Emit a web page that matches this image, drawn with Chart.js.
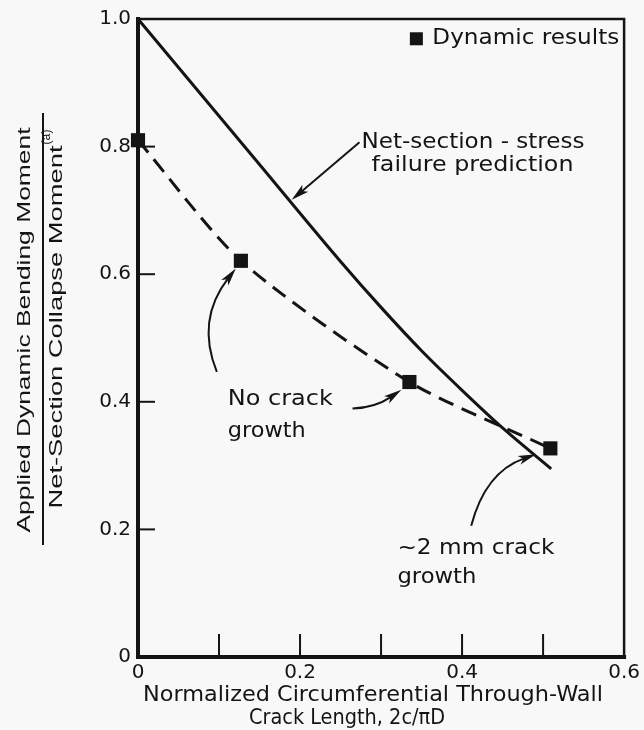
<!DOCTYPE html>
<html>
<head>
<meta charset="utf-8">
<script src="https://cdn.jsdelivr.net/npm/chart.js@4.4.1/dist/chart.umd.min.js"></script>
<style>
  html, body { margin: 0; padding: 0; background: #f8f8f8; }
  #wrap { width: 644px; height: 730px; }
</style>
</head>
<body>
<div id="wrap"><canvas id="crackChart" width="644" height="730"></canvas></div>
<script>
// dynamic test results: normalized crack length 2c/piD vs moment ratio
const dynamicX = [0, 0.127, 0.335, 0.509];
const dynamicY = [0.81, 0.621, 0.431, 0.327];

// net-section-stress failure prediction
const predictionX = [0, 0.15, 0.25, 0.30, 0.35, 0.40, 0.45, 0.51];
const predictionY = [1.0, 0.772, 0.620, 0.548, 0.480, 0.418, 0.359, 0.295];

const xTickLabels = ['0', '', '0.2', '', '0.4', '', '0.6'];
const yTickLabels = ['0', '0.2', '0.4', '0.6', '0.8', '1.0'];

const xTitle = ['Normalized Circumferential Through-Wall', 'Crack Length, 2c/\u03C0D'];
const yTitleTop = 'Applied Dynamic Bending Moment';
const yTitleBottom = 'Net-Section Collapse Moment';

// text notes, anchored in data units (left edge, middle), w = printed width in px
const notes = [
    { text: 'Net-section - stress', x: 0.2759, y: 0.807, w: 223 },
    { text: 'failure prediction', x: 0.2882, y: 0.771, w: 202 },
    { text: 'No crack', x: 0.1108, y: 0.4034, w: 105 },
    { text: 'growth', x: 0.1108, y: 0.3536, w: 78 },
    { text: '~2 mm crack', x: 0.3202, y: 0.1698, w: 157 },
    { text: 'growth', x: 0.3202, y: 0.1246, w: 79 }
];

// leader arrows: start, control, tip (data units)
const arrows = [
    [[0.2734, 0.8069], [0.2315, 0.7617], [0.1897, 0.7165]],
    [[0.0973, 0.4470], [0.0714, 0.5280], [0.1207, 0.6090]],
    [[0.2648, 0.3894], [0.2931, 0.3910], [0.3251, 0.4190]],
    [[0.4113, 0.2056], [0.4286, 0.2897], [0.4914, 0.3178]]
];

const ink = '#141414';
const plainFont = '"DejaVu Sans", sans-serif';
const titleFont = '"Liberation Sans", Arial, sans-serif';

// draw text centred at cx,cy squeezed/stretched to a given width
function fitText(ctx, text, cx, cy, width, size, family, angle) {
    ctx.save();
    ctx.font = size + 'px ' + family;
    ctx.translate(cx, cy);
    if (angle) ctx.rotate(angle);
    const w = ctx.measureText(text).width;
    ctx.scale(width / w, 1);
    ctx.textAlign = 'center';
    ctx.textBaseline = 'middle';
    ctx.fillStyle = ink;
    ctx.fillText(text, 0, 0);
    ctx.restore();
}

function drawArrow(ctx, p0, p1, p2) {
    const ang = Math.atan2(p2.y - p1.y, p2.x - p1.x);
    const len = 18, half = 4.5;
    const cos = Math.cos(ang), sin = Math.sin(ang);
    ctx.save();
    ctx.strokeStyle = ink;
    ctx.fillStyle = ink;
    ctx.lineWidth = 2;
    ctx.beginPath();
    ctx.moveTo(p0.x, p0.y);
    ctx.quadraticCurveTo(p1.x, p1.y, p2.x - cos * len * 0.7, p2.y - sin * len * 0.7);
    ctx.stroke();
    ctx.beginPath();
    ctx.moveTo(p2.x, p2.y);
    ctx.lineTo(p2.x - cos * len - sin * half, p2.y - sin * len + cos * half);
    ctx.lineTo(p2.x - cos * len * 0.75, p2.y - sin * len * 0.75);
    ctx.lineTo(p2.x - cos * len + sin * half, p2.y - sin * len - cos * half);
    ctx.closePath();
    ctx.fill();
    ctx.restore();
}

const decor = {
    id: 'decor',
    beforeDatasetsDraw(chart) {
        const { ctx, chartArea: a, scales: { x, y } } = chart;
        ctx.save();
        ctx.strokeStyle = ink;
        ctx.lineCap = 'square';
        ctx.lineWidth = 2.5;
        ctx.beginPath();
        ctx.moveTo(a.left, a.top);
        ctx.lineTo(a.right, a.top);
        ctx.lineTo(a.right, a.bottom);
        ctx.stroke();
        ctx.lineWidth = 4;
        ctx.beginPath();
        ctx.moveTo(a.left, a.top);
        ctx.lineTo(a.left, a.bottom);
        ctx.lineTo(a.right, a.bottom);
        ctx.stroke();

        // inward tick marks
        ctx.lineWidth = 2;
        ctx.lineCap = 'butt';
        x.ticks.forEach(t => {
            if (t.value <= x.min + 1e-9 || t.value >= x.max - 1e-9) return;
            const px = x.getPixelForValue(t.value);
            ctx.beginPath();
            ctx.moveTo(px, a.bottom);
            ctx.lineTo(px, a.bottom - 23);
            ctx.stroke();
        });
        y.ticks.forEach(t => {
            if (t.value <= y.min + 1e-9 || t.value >= y.max - 1e-9) return;
            const py = y.getPixelForValue(t.value);
            ctx.beginPath();
            ctx.moveTo(a.left, py);
            ctx.lineTo(a.left + 17, py);
            ctx.stroke();
        });
        ctx.restore();
    },
    afterDatasetsDraw(chart) {
        const { ctx, scales: { x, y } } = chart;
        const pt = p => ({ x: x.getPixelForValue(p[0]), y: y.getPixelForValue(p[1]) });

        // legend box in the upper right corner
        const lx = x.getPixelForValue(0.3436), ly = y.getPixelForValue(0.969);
        ctx.save();
        ctx.fillStyle = ink;
        ctx.fillRect(lx - 6.5, ly - 6.5, 13, 13);
        ctx.restore();
        fitText(ctx, 'Dynamic results', x.getPixelForValue(0.3633) + 93.5, ly, 187, 22, plainFont);

        notes.forEach(n => {
            fitText(ctx, n.text, x.getPixelForValue(n.x) + n.w / 2, y.getPixelForValue(n.y), n.w, 22, plainFont);
        });
        arrows.forEach(a => drawArrow(ctx, pt(a[0]), pt(a[1]), pt(a[2])));
    },
    afterDraw(chart) {
        const { ctx } = chart;
        // x axis title, two lines
        fitText(ctx, xTitle[0], 373, 695, 460, 22, plainFont);
        fitText(ctx, xTitle[1], 347, 718, 196, 22, plainFont);

        // y axis title as a fraction
        fitText(ctx, yTitleTop, 25, 330, 405, 19, titleFont, -Math.PI / 2);
        fitText(ctx, yTitleBottom, 57, 327, 363, 19, titleFont, -Math.PI / 2);
        fitText(ctx, '(a)', 47, 137, 15, 12, titleFont, -Math.PI / 2);
        ctx.save();
        ctx.strokeStyle = ink;
        ctx.lineWidth = 2;
        ctx.beginPath();
        ctx.moveTo(43, 113);
        ctx.lineTo(43, 545);
        ctx.stroke();
        ctx.restore();
    }
};

const ctx = document.getElementById('crackChart').getContext('2d');
new Chart(ctx, {
    type: 'scatter',
    data: {
        datasets: [
            {
                label: 'Dynamic results',
                data: dynamicX.map((v, i) => ({ x: v, y: dynamicY[i] })),
                showLine: false,
                pointStyle: 'rect',
                pointRadius: 10,
                pointHoverRadius: 10,
                backgroundColor: ink,
                borderColor: ink,
                borderWidth: 0,
                clip: false,
                order: 0
            },
            {
                label: 'Trend of dynamic results',
                data: dynamicX.map((v, i) => ({ x: v, y: dynamicY[i] })),
                showLine: true,
                borderColor: ink,
                borderWidth: 3,
                borderDash: [16, 9],
                pointRadius: 0,
                tension: 0.25,
                clip: false,
                order: 1
            },
            {
                label: 'Net-section-stress failure prediction',
                data: predictionX.map((v, i) => ({ x: v, y: predictionY[i] })),
                showLine: true,
                borderColor: ink,
                borderWidth: 3,
                pointRadius: 0,
                cubicInterpolationMode: 'monotone',
                clip: false,
                order: 2
            }
        ]
    },
    options: {
        responsive: false,
        animation: false,
        devicePixelRatio: 1,
        layout: {
            padding: { left: 0, top: 15, right: 19, bottom: 0 }
        },
        plugins: {
            legend: { display: false },
            tooltip: { enabled: false }
        },
        scales: {
            x: {
                type: 'linear',
                min: 0,
                max: 0.6,
                grid: { display: false, drawTicks: false },
                border: { display: false },
                ticks: {
                    stepSize: 0.1,
                    padding: 4,
                    color: ink,
                    font: { family: plainFont, size: 20 },
                    maxRotation: 0,
                    autoSkip: false,
                    callback: (v, i) => xTickLabels[i]
                },
                afterFit: scale => { scale.height = 73; }
            },
            y: {
                type: 'linear',
                min: 0,
                max: 1,
                grid: { display: false, drawTicks: false },
                border: { display: false },
                ticks: {
                    stepSize: 0.2,
                    padding: 7,
                    color: ink,
                    font: { family: plainFont, size: 20 },
                    callback: (v, i) => yTickLabels[i]
                },
                afterFit: scale => { scale.width = 138; }
            }
        }
    },
    plugins: [decor]
});
</script>
</body>
</html>
